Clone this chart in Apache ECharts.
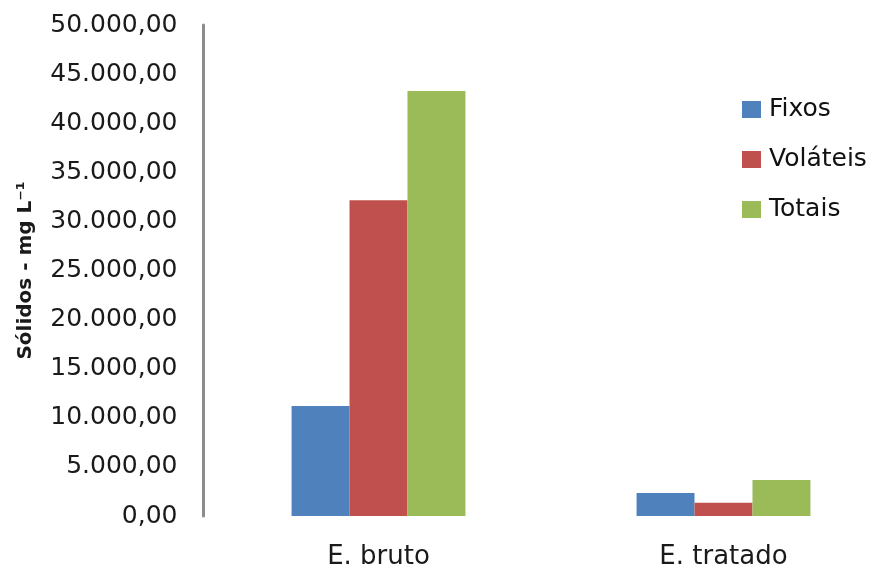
<!DOCTYPE html>
<html>
<head>
<meta charset="utf-8">
<script src="https://cdn.jsdelivr.net/npm/echarts@6/dist/echarts.min.js"></script>
<style>
  html, body { margin: 0; padding: 0; background: #fff; overflow: hidden; }
  /* the plot area runs slightly past the right edge of the page */
  #chart { width: 896px; height: 570px; }
</style>
</head>
<body>
<div id="chart"></div>
<script>
// Sólidos fixos, voláteis e totais (mg/L) no efluente bruto e tratado
const categories = ['E. bruto', 'E. tratado'];
const fixos = [11200, 2350];
const volateis = [32150, 1350];
const totais = [43280, 3670];
const seriesNames = ['Fixos', 'Voláteis', 'Totais'];

const fontFamily = '"DejaVu Sans", Verdana, sans-serif';
const textColor = '#1a1a1a';

function brNumber(v) {
  const parts = v.toFixed(2).split('.');
  const intPart = parts[0].replace(/\B(?=(\d{3})+(?!\d))/g, '.');
  return intPart + ',' + parts[1];
}

const chart = echarts.init(document.getElementById('chart'), null, { renderer: 'canvas' });

chart.setOption({
  backgroundColor: '#ffffff',
  animation: false,
  color: ['#4F81BD', '#C0504D', '#9BBB59'],
  grid: { left: 206, right: 0, top: 25, bottom: 54, containLabel: false },
  legend: {
    orient: 'vertical',
    left: 737,
    top: 92,
    itemWidth: 19,
    itemHeight: 17,
    itemGap: 25,
    icon: 'rect',
    textStyle: { fontFamily, fontSize: 25, color: '#111111', padding: [0, 0, 0, 3] },
    data: seriesNames
  },
  xAxis: {
    type: 'category',
    data: categories,
    axisLine: { show: false },
    axisTick: { show: false },
    axisLabel: { fontFamily, fontSize: 26, color: textColor, margin: 28 }
  },
  yAxis: {
    type: 'value',
    min: 0,
    max: 50000,
    interval: 5000,
    offset: 2.5,
    name: 'Sólidos - mg L⁻¹',
    nameLocation: 'middle',
    nameGap: 168,
    nameTextStyle: { fontFamily, fontSize: 20, fontWeight: 'bold', color: textColor },
    axisLine: { show: true, lineStyle: { color: '#8c8c8c', width: 3 } },
    axisTick: { show: false },
    splitLine: { show: false },
    axisLabel: {
      fontFamily, fontSize: 25, color: textColor, margin: 26,
      formatter: brNumber
    }
  },
  series: [
    { name: seriesNames[0], type: 'bar', data: fixos, barGap: '0%', barCategoryGap: '49.6%' },
    { name: seriesNames[1], type: 'bar', data: volateis, barGap: '0%', barCategoryGap: '49.6%' },
    { name: seriesNames[2], type: 'bar', data: totais, barGap: '0%', barCategoryGap: '49.6%' }
  ]
});
</script>
</body>
</html>
